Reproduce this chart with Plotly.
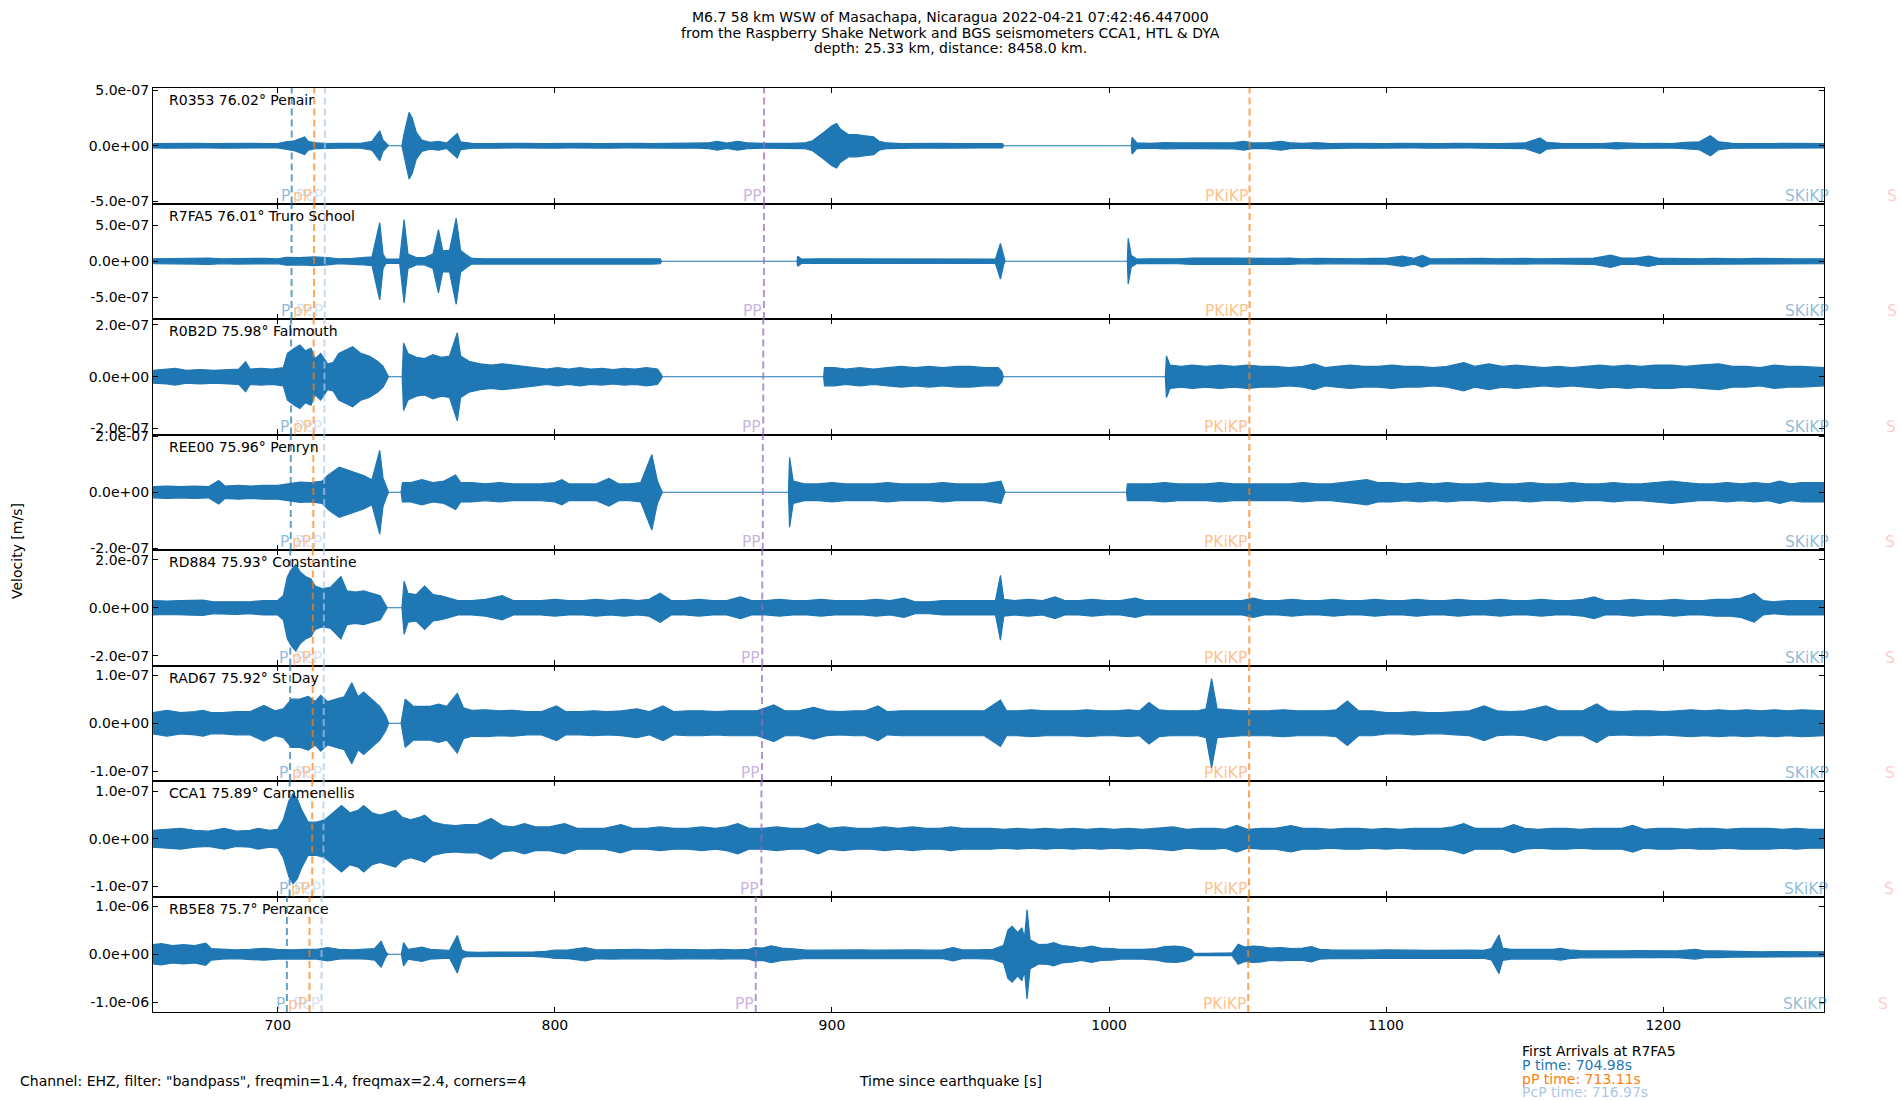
import plotly.graph_objects as go
from plotly.subplots import make_subplots

# ---------------- data ----------------
station_codes = ["R0353", "R7FA5", "R0B2D", "REE00", "RD884", "RAD67", "CCA1", "RB5E8"]
station_dists = [76.02, 76.01, 75.98, 75.96, 75.93, 75.92, 75.89, 75.7]
station_names = ["Penair", "Truro School", "Falmouth", "Penryn", "Constantine", "St Day", "Carnmenellis", "Penzance"]

# y-limits (m/s) and y tick values per panel
y_limits = [5.2e-7, 8.05e-7, 2.23e-7, 2.07e-7, 2.4e-7, 1.2e-7, 1.22e-7, 1.2e-6]
y_ticks = [5e-7, 5e-7, 2e-7, 2e-7, 2e-7, 1e-7, 1e-7, 1e-6]

x_range = [654.98, 1258.0]
x_ticks = [700, 800, 900, 1000, 1100, 1200]

# amplitude envelopes (time s, amplitude in 1e-7 m/s)
env_R0353 = [(655,0.2),(660,0.22),(665,0.2),(670,0.22),(675,0.2),(680,0.22),(685,0.18),(690,0.22),(695,0.2),(700,0.2),
 (703,0.35),(706,0.45),(709.7,0.8),(711,0.4),(714,0.25),(718,0.2),(722,0.22),(726,0.2),(730,0.22),(734,0.4),(736.8,1.35),
 (738,0.5),(739.5,0.1),(740,0),(744.8,0),(745.5,1.0),(747.4,3.0),(748.5,2.5),(750,1.2),(752,0.5),(755,0.3),(758,0.4),(761,0.25),
 (764.8,1.1),(766,0.35),(770,0.22),(775,0.2),(780,0.22),(785,0.2),(790,0.22),(795,0.2),(800,0.22),(805,0.2),(810,0.22),(815,0.2),
 (820,0.22),(825,0.2),(830,0.22),(835,0.2),(840,0.2),(845,0.22),(850,0.2),(855,0.25),(858.6,0.4),(862,0.25),(866,0.4),(870,0.25),
 (875,0.22),(880,0.2),(885,0.22),(890,0.25),(893,0.45),(897,1.2),(900,1.8),(901.7,2.0),(903,1.5),(906,1.0),(909,1.0),(912,0.9),
 (915,0.8),(917,0.4),(920,0.25),(925,0.2),(930,0.22),(935,0.2),(940,0.22),(945,0.2),(950,0.22),(955,0.2),(961.5,0.2),(962,0),
 (1008,0),(1008.3,0.75),(1010,0.25),(1015,0.22),(1020,0.28),(1025,0.25),(1030,0.25),(1035,0.28),(1040,0.25),(1045,0.28),(1048.7,0.4),
 (1052,0.25),(1057,0.25),(1062,0.4),(1066,0.25),(1070,0.22),(1075,0.28),(1080,0.2),(1085,0.22),(1090,0.2),(1095,0.22),(1100,0.2),
 (1105,0.22),(1110,0.2),(1115,0.22),(1120,0.2),(1125,0.22),(1130,0.2),(1135,0.22),(1140,0.2),(1145,0.22),(1150,0.25),(1155.5,0.7),
 (1158,0.3),(1163,0.22),(1168,0.2),(1173,0.22),(1178,0.2),(1183,0.28),(1188,0.22),(1193,0.2),(1198,0.22),(1203,0.2),(1208,0.3),
 (1213,0.35),(1217,0.9),(1220,0.35),(1225,0.22),(1230,0.2),(1235,0.22),(1240,0.2),(1245,0.22),(1250,0.2),(1258,0.2)]

env_R7FA5 = [(655,0.35),(660,0.4),(665,0.35),(670,0.4),(675,0.45),(680,0.35),(685,0.4),(690,0.35),(695,0.4),(700,0.35),
 (703,0.55),(708,0.5),(713,0.6),(718,0.5),(722,0.35),(727,0.4),(731,0.5),(734,0.6),(736.8,5.4),(738,1.0),(739,0.3),(744,0.3),
 (745.6,5.8),(747,1.0),(750,0.5),(753,0.5),(756,1.0),(758,4.4),(759.5,1.5),(762,1.5),(764.4,6.0),(766,1.5),(768,0.9),(770,0.4),
 (775,0.35),(780,0.4),(785,0.35),(790,0.35),(795,0.35),(800,0.4),(805,0.35),(810,0.4),(815,0.35),(820,0.35),(825,0.4),(830,0.4),
 (835,0.4),(838,0.35),(838.5,0),(887.4,0),(887.6,0.7),(889,0.3),(895,0.35),(900,0.35),(905,0.4),(910,0.35),(915,0.4),(920,0.35),
 (925,0.35),(930,0.4),(935,0.35),(940,0.35),(945,0.35),(950,0.35),(955,0.3),(959,0.3),(960.8,2.5),(962,0.4),(962.5,0),
 (1006.6,0),(1006.9,3.2),(1008,0.8),(1010,0.3),(1015,0.35),(1020,0.3),(1025,0.35),(1030,0.45),(1035,0.5),(1040,0.45),(1045,0.45),
 (1050,0.4),(1055,0.45),(1060,0.4),(1065,0.45),(1070,0.35),(1075,0.4),(1080,0.35),(1085,0.4),(1090,0.35),(1095,0.4),(1100,0.4),
 (1105.8,0.7),(1110,0.4),(1113,0.8),(1116,0.35),(1120,0.35),(1125,0.4),(1130,0.35),(1135,0.4),(1140,0.35),(1145,0.4),(1150,0.4),
 (1155,0.35),(1160,0.4),(1165,0.35),(1170,0.4),(1175,0.45),(1181,0.85),(1185,0.45),(1190,0.45),(1194.7,0.7),(1198,0.45),
 (1203,0.4),(1208,0.35),(1213,0.35),(1218,0.4),(1223,0.35),(1228,0.35),(1233,0.4),(1238,0.35),(1243,0.4),(1248,0.35),(1253,0.35),(1258,0.35)]

env_R0B2D = [(655,0.25),(660,0.28),(663,0.32),(667,0.25),(672,0.28),(677,0.25),(682,0.28),(686,0.3),(688.4,0.58),(690,0.3),
 (694,0.32),(698,0.3),(702,0.35),(703.5,0.9),(706,1.1),(708,1.23),(710,1.0),(712,1.1),(713.5,0.7),(715.5,0.9),(718,0.5),(720,0.55),
 (722,0.9),(724,1.0),(727,1.16),(730,0.9),(733,0.8),(736,0.6),(738,0.4),(739.5,0.1),(740,0),(744.9,0),(745.4,1.3),(747,0.9),
 (750,0.75),(753,0.7),(756,0.85),(759,0.75),(762,0.8),(764.8,1.7),(766,0.8),(769,0.6),(773,0.5),(777,0.45),(781,0.5),(785,0.45),
 (789,0.4),(793,0.35),(797,0.3),(801,0.35),(805,0.3),(809,0.35),(813,0.3),(817,0.32),(821,0.28),(825,0.32),(829,0.3),(833,0.35),
 (837,0.3),(838.3,0.1),(838.8,0),(897,0),(897.3,0.35),(901,0.35),(905,0.3),(910,0.35),(915,0.3),(920,0.35),(925,0.4),(930,0.35),
 (935,0.4),(940,0.35),(945,0.4),(950,0.4),(955,0.35),(960,0.35),(961.3,0.2),(961.8,0),(1020.3,0),(1020.7,0.8),(1022,0.45),
 (1026,0.4),(1030,0.45),(1035,0.4),(1040,0.45),(1045,0.4),(1050,0.45),(1055,0.4),(1060,0.4),(1065,0.35),(1070,0.4),(1074,0.5),
 (1078,0.35),(1082,0.4),(1087,0.45),(1092,0.4),(1097,0.4),(1102,0.45),(1107,0.4),(1112,0.4),(1117,0.35),(1122,0.4),(1128,0.55),
 (1132,0.4),(1137,0.5),(1142,0.4),(1147,0.45),(1152,0.4),(1157,0.35),(1162,0.4),(1167,0.35),(1172,0.4),(1177,0.45),(1182,0.4),
 (1187,0.45),(1192,0.4),(1197,0.45),(1203,0.45),(1208,0.4),(1213,0.45),(1220,0.5),(1225,0.4),(1230,0.4),(1235,0.35),(1240,0.45),
 (1245,0.4),(1250,0.4),(1258,0.35)]

env_REE00 = [(655,0.2),(660,0.22),(665,0.2),(670,0.22),(675,0.2),(678.7,0.42),(681,0.22),(686,0.25),(690,0.22),(695,0.25),
 (700,0.25),(704,0.3),(708,0.36),(712,0.35),(716,0.4),(718,0.6),(720,0.75),(722.2,0.9),(725,0.8),(728,0.7),(731,0.6),(734,0.45),
 (736.8,1.5),(738,0.5),(739.5,0.1),(740,0),(744.5,0),(745,0.35),(748,0.35),(752,0.45),(756,0.35),(760,0.4),(764.2,0.62),(766,0.35),
 (770,0.35),(775,0.3),(780,0.35),(785,0.3),(790,0.3),(795,0.3),(800,0.35),(802.5,0.45),(805,0.3),(810,0.3),(815,0.3),(819.5,0.5),
 (823,0.3),(827,0.3),(831,0.35),(835,1.35),(837,0.4),(838.3,0.1),(838.8,0),(884.3,0),(884.7,1.25),(886,0.4),(890,0.3),(895,0.3),
 (900,0.35),(905,0.3),(910,0.3),(915,0.3),(920,0.35),(925,0.3),(930,0.3),(935,0.3),(940,0.35),(945,0.3),(950,0.3),(955,0.3),
 (961,0.4),(962,0.1),(962.5,0),(1006.3,0),(1006.6,0.3),(1010,0.3),(1015,0.3),(1020,0.35),(1025,0.3),(1030,0.3),(1035,0.3),
 (1040,0.35),(1045,0.3),(1050,0.3),(1055,0.3),(1060,0.3),(1065,0.3),(1070,0.35),(1075,0.3),(1080,0.3),(1085,0.35),(1089,0.4),
 (1093,0.45),(1097,0.35),(1102,0.35),(1107,0.3),(1112,0.35),(1117,0.3),(1122,0.35),(1127,0.3),(1132,0.3),(1137,0.35),(1142,0.3),
 (1147,0.3),(1152,0.35),(1157,0.3),(1162,0.3),(1167,0.35),(1172,0.3),(1177,0.3),(1182,0.35),(1187,0.3),(1192,0.3),(1197,0.35),
 (1203,0.4),(1208,0.35),(1213,0.3),(1218,0.3),(1223,0.35),(1228,0.3),(1233,0.35),(1238,0.3),(1242,0.4),(1246,0.3),(1250,0.35),(1258,0.35)]

env_RD884 = [(655,0.3),(660,0.28),(665,0.3),(668,0.3),(673,0.32),(676.8,0.25),(680,0.25),(685,0.28),(690,0.25),(695,0.3),
 (700,0.3),(702,0.5),(703.5,1.3),(705,1.6),(706.5,1.8),(708,1.5),(710,1.3),(712,1.2),(713.5,0.9),(716,0.8),(719,0.85),(722.8,1.3),
 (725,0.7),(728,0.65),(731,0.7),(734,0.6),(737,0.5),(738.7,0.15),(739.5,0),(744.8,0),(745.6,1.1),(747,0.6),(750,0.55),(753,0.9),
 (756,0.55),(759,0.5),(762,0.4),(765,0.3),(770,0.3),(775,0.35),(781,0.5),(785,0.3),(790,0.3),(795,0.3),(800,0.35),(805,0.3),
 (810,0.3),(815,0.35),(820,0.3),(825,0.35),(830,0.3),(834,0.35),(838,0.6),(842,0.3),(847,0.3),(852,0.35),(857,0.3),(862,0.3),
 (867,0.45),(871,0.3),(876,0.3),(881,0.35),(886,0.3),(891,0.3),(896,0.35),(901,0.3),(906,0.3),(911,0.3),(916,0.35),(921,0.3),
 (926,0.4),(930,0.25),(935,0.25),(940,0.3),(945,0.3),(950,0.3),(955,0.3),(959,0.3),(960.8,1.35),(962,0.35),(966,0.3),(971,0.35),
 (976,0.3),(980.5,0.45),(984,0.3),(989,0.3),(994,0.35),(999,0.3),(1004,0.3),(1009.5,0.4),(1013,0.3),(1018,0.3),(1023,0.3),
 (1028,0.3),(1033,0.3),(1038,0.3),(1043,0.3),(1048,0.3),(1052,0.4),(1056,0.3),(1061,0.3),(1066,0.35),(1071,0.3),(1076,0.3),
 (1081,0.35),(1086,0.3),(1091,0.3),(1096,0.35),(1101,0.3),(1106,0.3),(1111,0.35),(1116,0.3),(1121,0.3),(1126,0.35),(1131,0.3),
 (1136,0.3),(1141,0.35),(1146,0.3),(1151,0.3),(1156,0.35),(1161,0.3),(1166,0.3),(1171,0.35),(1175,0.45),(1179,0.3),(1184,0.3),
 (1189,0.35),(1194,0.3),(1199,0.3),(1204,0.35),(1209,0.3),(1214,0.3),(1219,0.35),(1224,0.35),(1228,0.4),(1232.8,0.6),(1236,0.3),
 (1240,0.25),(1245,0.3),(1250,0.3),(1258,0.3)]

env_RAD67 = [(655,0.22),(660,0.27),(665,0.22),(670,0.24),(673,0.27),(676,0.22),(680,0.22),(685,0.24),(690,0.24),(695,0.37),
 (699,0.26),(702,0.3),(705,0.5),(708,0.5),(711,0.56),(713.5,0.45),(715.5,0.58),(718,0.45),(721,0.5),(724,0.55),(726.7,0.84),
 (729,0.55),(731,0.65),(734,0.5),(736.8,0.35),(739,0.15),(740,0),(744.5,0),(746,0.5),(749,0.35),(752,0.35),(755,0.35),(758,0.4),
 (761,0.35),(764.8,0.62),(767,0.32),(770,0.27),(775,0.28),(780,0.26),(785,0.27),(790,0.24),(795,0.24),(800.6,0.36),(804,0.24),
 (809,0.24),(814,0.26),(819,0.24),(824,0.26),(829.6,0.3),(834,0.24),(839,0.36),(843,0.24),(848,0.26),(853,0.26),(858,0.24),
 (863,0.26),(868,0.26),(873,0.26),(879,0.38),(883,0.26),(888,0.26),(893.4,0.33),(898,0.26),(903,0.24),(908,0.26),(912,0.26),
 (916.6,0.36),(920,0.24),(925,0.26),(930,0.26),(935,0.26),(940,0.26),(945,0.26),(950,0.26),(955,0.26),(960.8,0.48),(963,0.26),
 (967,0.26),(972,0.28),(977,0.26),(982,0.26),(987,0.26),(992,0.28),(997,0.26),(1002,0.26),(1007,0.28),(1011,0.26),(1014.4,0.43),
 (1018,0.28),(1022,0.26),(1027,0.26),(1032,0.26),(1035,0.3),(1037,0.93),(1039,0.3),(1043,0.28),(1048,0.26),(1053,0.26),(1058,0.26),
 (1063,0.28),(1068,0.26),(1073,0.26),(1078,0.26),(1082,0.28),(1086,0.46),(1090,0.26),(1095,0.26),(1100,0.22),(1105,0.22),
 (1110,0.24),(1115,0.22),(1120,0.22),(1125,0.24),(1130,0.26),(1135.4,0.36),(1140,0.26),(1145,0.24),(1150,0.26),(1157.6,0.36),
 (1162,0.26),(1167,0.26),(1171,0.26),(1176,0.4),(1180,0.26),(1185,0.24),(1190,0.26),(1195,0.26),(1200,0.24),(1205,0.26),
 (1210,0.28),(1215,0.26),(1220,0.28),(1225,0.26),(1230,0.28),(1235,0.26),(1240,0.28),(1245,0.26),(1250,0.28),(1258,0.26)]

env_CCA1 = [(655,0.18),(660,0.2),(665,0.22),(670,0.18),(675,0.16),(680.7,0.22),(685,0.16),(690,0.18),(693,0.22),(697,0.18),
 (700,0.2),(702,0.4),(704,0.8),(705.5,0.95),(707,0.85),(708.7,0.6),(711,0.35),(714,0.35),(717,0.4),(719,0.5),(721,0.6),(723,0.7),
 (726,0.55),(729,0.6),(731,0.7),(734,0.55),(737,0.5),(740,0.55),(742.5,0.6),(745,0.45),(748,0.4),(751,0.45),(753,0.5),(756,0.35),
 (760,0.3),(764,0.28),(768,0.3),(772,0.3),(777,0.43),(781,0.28),(785,0.25),(789,0.32),(793,0.25),(798,0.25),(803.5,0.32),(808,0.22),
 (813,0.22),(818,0.22),(823.8,0.3),(828,0.22),(833,0.22),(838,0.25),(843,0.22),(848,0.22),(853,0.25),(858,0.22),(862,0.25),
 (866,0.32),(870,0.22),(875,0.22),(880,0.25),(885,0.22),(890,0.22),(895,0.32),(899,0.22),(904,0.25),(909,0.22),(914,0.22),
 (919,0.25),(924,0.22),(929,0.25),(934,0.22),(939,0.22),(943,0.25),(947,0.22),(952,0.22),(957,0.22),(962,0.2),(967,0.22),(972,0.2),
 (977,0.22),(982,0.2),(987,0.22),(992,0.2),(997,0.22),(1002,0.2),(1007,0.22),(1012,0.2),(1017,0.22),(1023,0.25),(1028,0.2),
 (1033,0.22),(1038,0.22),(1042,0.2),(1046,0.28),(1050,0.2),(1055,0.22),(1060,0.22),(1065.6,0.28),(1070,0.22),(1075,0.22),(1080,0.2),
 (1085,0.22),(1090,0.22),(1095,0.2),(1100,0.22),(1105,0.2),(1110,0.22),(1115,0.22),(1120,0.22),(1124,0.25),(1128,0.32),(1132,0.22),
 (1137,0.22),(1142,0.22),(1146,0.3),(1150,0.22),(1155,0.2),(1160,0.22),(1165,0.22),(1170,0.2),(1175,0.22),(1180,0.22),(1185,0.22),
 (1189,0.28),(1193,0.2),(1198,0.22),(1203,0.22),(1208,0.2),(1213,0.22),(1218,0.22),(1223,0.2),(1228,0.22),(1233,0.22),(1238,0.22),
 (1243,0.2),(1248,0.22),(1253,0.2),(1258,0.2)]

env_RB5E8 = [(655,2.0),(658,2.2),(662,1.8),(666,2.0),(670,1.8),(674,2.3),(676,1.2),(680,1.0),(685,0.9),(690,1.0),(695,1.25),
 (700,1.0),(705,0.9),(710,1.0),(714,1.0),(718,1.4),(722,1.0),(727,0.9),(732,1.0),(735,1.2),(737.3,2.7),(739,0.5),(739.8,0),
 (744.6,0),(745.4,2.4),(747,1.0),(750,1.3),(752,1.5),(755,1.0),(759,0.9),(762,0.8),(764.8,3.9),(766.5,0.8),(768,0.5),(772,0.4),
 (777,0.45),(782,0.4),(787,0.45),(792,0.45),(796.7,0.6),(800,0.85),(805,0.9),(811,1.4),(815,0.9),(820,1.0),(825,0.95),(830,1.0),
 (835,0.9),(840,1.0),(845,0.9),(850,0.95),(855,0.9),(860,1.0),(865,0.9),(870,1.0),(872,1.4),(875,1.3),(878,1.75),(882,1.3),
 (886,1.1),(890,0.9),(895,0.85),(900,0.9),(905,0.85),(910,0.9),(915,0.85),(920,0.9),(925,0.85),(930,0.9),(935,0.85),(940,0.9),
 (943.7,1.4),(947,0.9),(952,0.9),(958,1.0),(961.9,1.8),(963.5,5.0),(965,5.8),(967,4.5),(968.5,5.5),(969.5,3.5),(970.4,9.3),
 (971.5,3.0),(974.6,2.0),(978,2.1),(980,2.4),(983,1.8),(987,1.6),(990,1.3),(993.7,1.7),(997,1.3),(1001,1.2),(1004,1.0),(1008,1.0),
 (1012,1.0),(1016.9,1.2),(1020,1.6),(1024,1.7),(1027,1.5),(1029.6,1.0),(1030.7,0.25),(1035,0.2),(1040,0.25),(1044.4,0.3),
 (1046.6,2.1),(1049,1.5),(1052,1.7),(1055,1.6),(1058,1.3),(1062,1.4),(1066,1.2),(1070,1.3),(1073,1.6),(1076,1.0),(1080,0.9),
 (1085,0.85),(1090,0.9),(1095,0.85),(1100,0.9),(1105,0.8),(1110,0.85),(1115,0.8),(1120,0.85),(1125,0.8),(1130,0.85),(1135,0.8),
 (1138,1.2),(1140.7,4.0),(1142,1.3),(1145,1.0),(1150,1.0),(1155,0.95),(1160,1.0),(1163,1.2),(1166,0.9),(1170,0.75),(1175,0.7),
 (1180,0.7),(1185,0.7),(1190,0.75),(1195,0.7),(1200,0.7),(1205,0.7),(1211.6,1.0),(1215,0.7),(1220,0.7),(1225,0.6),(1230,0.6),
 (1235,0.5),(1240,0.55),(1245,0.5),(1250,0.5),(1258,0.5)]

envelopes = [env_R0353, env_R7FA5, env_R0B2D, env_REE00, env_RD884, env_RAD67, env_CCA1, env_RB5E8]

# phase arrival times (s) per station (same order as station_codes)
phase_names = ["P", "pP", "PcP", "PP", "PKiKP", "SKiKP", "S"]
P_times     = [705.04, 704.98, 704.81, 704.69, 704.52, 704.46, 704.29, 703.3]
pP_times    = [713.17, 713.11, 712.95, 712.83, 712.66, 712.60, 712.43, 711.45]
PcP_times   = [717.00, 716.97, 716.85, 716.75, 716.65, 716.60, 716.50, 715.8]
PP_times    = [875.5, 875.45, 875.2, 875.05, 874.85, 874.75, 874.55, 872.5]
PKiKP_times = [1050.7, 1050.7, 1050.65, 1050.6, 1050.6, 1050.55, 1050.5, 1050.2]
SKiKP_times = [1260.6, 1260.6, 1260.5, 1260.5, 1260.4, 1260.4, 1260.3, 1259.9]
S_times     = [1285.0, 1284.9, 1284.7, 1284.5, 1284.3, 1284.2, 1284.0, 1281.9]
phase_times = [P_times, pP_times, PcP_times, PP_times, PKiKP_times, SKiKP_times, S_times]
phase_rgb = ["31,119,180", "255,127,14", "174,199,232", "148,103,189", "255,127,14", "31,119,180", "255,152,150"]

title_lines = ["M6.7 58 km WSW of Masachapa, Nicaragua 2022-04-21 07:42:46.447000",
               "from the Raspberry Shake Network and BGS seismometers CCA1, HTL & DYA",
               "depth: 25.33 km, distance: 8458.0 km."]
first_arrival_station = "R7FA5"
first_arrivals = [("P time: 704.98s", "#1f77b4"), ("pP time: 713.11s", "#ff7f0e"), ("PcP time: 716.97s", "#aec7e8")]
footer_left = 'Channel: EHZ, filter: "bandpass", freqmin=1.4, freqmax=2.4, corners=4'
x_label = "Time since earthquake [s]"
y_label = "Velocity [m/s]"

# ---------------- figure ----------------
W, H = 1900, 1100
ML, MR, MT, MB = 153, 76, 88, 88
PW, PH = W - ML - MR, H - MT - MB
FONT = "DejaVu Sans"
TRACE_COLOR = "#1f77b4"

n = len(station_codes)
fig = make_subplots(rows=n, cols=1, shared_xaxes=True, vertical_spacing=0)

for i in range(n):
    row = i + 1
    env = envelopes[i]
    ts = [p[0] for p in env]
    amp = [p[1] * 1e-7 for p in env]
    xs = ts + ts[::-1]
    ys = amp + [-a for a in amp[::-1]]
    fig.add_trace(go.Scatter(x=xs, y=ys, mode="lines", fill="toself", fillcolor=TRACE_COLOR,
                             line=dict(color=TRACE_COLOR, width=1.2), hoverinfo="skip", showlegend=False),
                  row=row, col=1)
    yl = y_limits[i]
    tv = [y_ticks[i], 0.0, -y_ticks[i]]
    fig.update_yaxes(range=[-yl, yl], tickvals=tv, ticktext=[f"{v:.1e}" for v in tv],
                     ticks="inside", ticklen=5, tickwidth=1.1, tickcolor="black",
                     showline=True, linecolor="black", linewidth=1.2, mirror="ticks",
                     showgrid=False, zeroline=False, tickfont=dict(family=FONT, size=14, color="black"),
                     row=row, col=1)
    xr = "x" if row == 1 else f"x{row}"
    yr = "y" if row == 1 else f"y{row}"
    # station label
    fig.add_annotation(x=0, y=1, xref=f"{xr} domain", yref=f"{yr} domain", xanchor="left", yanchor="top",
                       xshift=14, yshift=-2, showarrow=False,
                       text=f"{station_codes[i]} {station_dists[i]}° {station_names[i]}",
                       font=dict(family=FONT, size=14, color="black"))
    # phase markers
    for k, pname in enumerate(phase_names):
        t = phase_times[k][i]
        rgb = phase_rgb[k]
        inside = x_range[0] <= t <= x_range[1]
        if inside:
            fig.add_shape(type="line", x0=t, x1=t, y0=0, y1=1, xref=xr, yref=f"{yr} domain",
                          line=dict(color=f"rgba({rgb},0.7)", width=2, dash="7px,4px"), layer="above")
            fig.add_annotation(x=t, y=0, xref=xr, yref=f"{yr} domain", xanchor="right", yanchor="bottom",
                               yshift=-3, showarrow=False, text=pname,
                               font=dict(family=FONT, size=15.5, color=f"rgba({rgb},0.5)"))
        else:
            xp = (t - x_range[0]) / (x_range[1] - x_range[0])
            fig.add_annotation(x=xp, y=0, xref="paper", yref=f"{yr} domain", xanchor="right", yanchor="bottom",
                               yshift=-3, showarrow=False, text=pname,
                               font=dict(family=FONT, size=15.5, color=f"rgba({rgb},0.5)"))

fig.update_xaxes(range=x_range, tickvals=x_ticks, ticks="inside", ticklen=5, tickwidth=1.1, tickcolor="black",
                 showline=True, linecolor="black", linewidth=1.2, mirror="ticks", showgrid=False, zeroline=False,
                 tickfont=dict(family=FONT, size=14, color="black"))


def px_x(px):
    return (px - ML) / PW


def px_y(py):
    return (H - MB - py) / PH


for line, py in zip(title_lines, [17, 32.7, 48.5]):
    fig.add_annotation(x=px_x(950), y=px_y(py), xref="paper", yref="paper", xanchor="center", yanchor="middle",
                       showarrow=False, text=line, font=dict(family=FONT, size=14, color="black"))

fig.add_annotation(x=px_x(17), y=px_y(551), xref="paper", yref="paper", textangle=-90, showarrow=False,
                   xanchor="center", yanchor="middle", text=y_label, font=dict(family=FONT, size=14, color="black"))
fig.add_annotation(x=px_x(18), y=px_y(1081), xref="paper", yref="paper", xanchor="left", yanchor="middle",
                   showarrow=False, text=footer_left, font=dict(family=FONT, size=14, color="black"))
fig.add_annotation(x=px_x(950), y=px_y(1081), xref="paper", yref="paper", xanchor="center", yanchor="middle",
                   showarrow=False, text=x_label, font=dict(family=FONT, size=14, color="black"))
fig.add_annotation(x=px_x(1520), y=px_y(1050.6), xref="paper", yref="paper", xanchor="left", yanchor="middle",
                   showarrow=False, text=f"First Arrivals at {first_arrival_station}",
                   font=dict(family=FONT, size=14, color="black"))
for (txt, col), py in zip(first_arrivals, [1065, 1078.5, 1091.8]):
    fig.add_annotation(x=px_x(1520), y=px_y(py), xref="paper", yref="paper", xanchor="left", yanchor="middle",
                       showarrow=False, text=txt, font=dict(family=FONT, size=14, color=col))

fig.update_layout(width=W, height=H, margin=dict(l=ML, r=MR, t=MT, b=MB, autoexpand=False),
                  paper_bgcolor="white", plot_bgcolor="white", showlegend=False,
                  font=dict(family=FONT, size=14, color="black"))

fig.write_html("out.html", config={"displayModeBar": False},
               post_script="document.body.style.margin='0px';document.body.style.overflow='hidden';")
